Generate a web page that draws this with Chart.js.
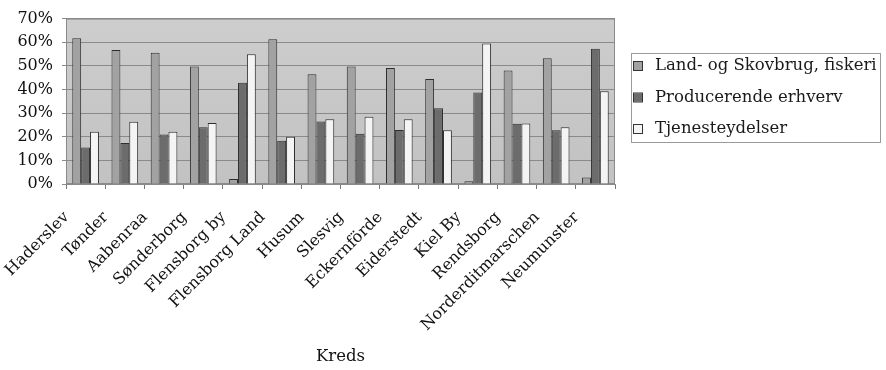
<!DOCTYPE html>
<html>
<head>
<meta charset="utf-8">
<script src="https://cdn.jsdelivr.net/npm/chart.js@4/dist/chart.umd.min.js"></script>
<style>
  html, body { margin: 0; padding: 0; background: #ffffff; }
  #wrap { width: 886px; height: 370px; }
</style>
</head>
<body>
<div id="wrap"><canvas id="c" width="886" height="370"></canvas></div>
<script>
// Erhvervsfordeling pr. kreds (andel af befolkningen, %)
const kredse = ['Haderslev', 'Tønder', 'Aabenraa', 'Sønderborg', 'Flensborg by', 'Flensborg Land',
  'Husum', 'Slesvig', 'Eckernförde', 'Eiderstedt', 'Kiel By', 'Rendsborg', 'Norderditmarschen', 'Neumunster'];
const landbrug     = [61.7, 56.7, 55.5, 49.7,  2.1, 61.3, 46.4, 49.7, 49.1, 44.4,  1.2, 48.0, 53.2,  2.8];
const producerende = [15.5, 17.3, 21.0, 24.0, 42.9, 18.3, 26.4, 21.3, 22.9, 32.1, 38.7, 25.5, 22.8, 57.2];
const tjeneste     = [22.1, 26.3, 22.1, 25.8, 54.9, 20.0, 27.4, 28.5, 27.4, 22.8, 59.5, 25.6, 24.0, 39.3];
const serieNavne = ['Land- og Skovbrug, fiskeri', 'Producerende erhverv', 'Tjenesteydelser'];
const yTickLabels = ['0%', '10%', '20%', '30%', '40%', '50%', '60%', '70%'];
const aksetitel = 'Kreds';

const SERIF = '"DejaVu Serif", "Liberation Serif", serif';
const fills = ['#a2a2a2', '#6c6c6c', '#f4f4f4'];
const edge = '#2e2e2e';

// Grey plot panel with a thin frame
const panel = {
  id: 'panel',
  beforeDraw(chart) {
    const { ctx, chartArea: a } = chart;
    ctx.save();
    const g = ctx.createLinearGradient(0, a.top, 0, a.bottom);
    g.addColorStop(0, '#cdcdcd');
    g.addColorStop(1, '#c2c2c2');
    ctx.fillStyle = g;
    ctx.fillRect(a.left, a.top, a.right - a.left, a.bottom - a.top);
    ctx.restore();
  },
  beforeDatasetsDraw(chart) {
    const { ctx, chartArea: a } = chart;
    ctx.save();
    ctx.strokeStyle = '#8a8a8a';
    ctx.lineWidth = 1;
    ctx.strokeRect(a.left + 0.5, a.top + 0.5, a.right - a.left - 1, a.bottom - a.top - 1);
    ctx.restore();
  }
};

// Framed legend to the right of the plot
const boxLegend = {
  id: 'boxLegend',
  afterDraw(chart) {
    const { ctx, chartArea: a } = chart;
    const x0 = a.right + 16, y0 = 53, w = 249, h = 89;
    ctx.save();
    ctx.fillStyle = '#ffffff';
    ctx.fillRect(x0, y0, w, h);
    ctx.strokeStyle = '#9a9a9a';
    ctx.lineWidth = 1;
    ctx.strokeRect(x0 + 0.5, y0 + 0.5, w, h);
    ctx.font = '16.5px ' + SERIF;
    ctx.textBaseline = 'middle';
    chart.data.datasets.forEach((ds, i) => {
      const cy = y0 + 13 + i * 31.5;
      ctx.fillStyle = ds.backgroundColor;
      ctx.fillRect(x0 + 3, cy - 4, 8, 8);
      ctx.strokeStyle = '#333333';
      ctx.strokeRect(x0 + 2.5, cy - 4.5, 9, 9);
      ctx.fillStyle = '#1a1a1a';
      ctx.fillText(ds.label, x0 + 24, cy);
    });
    ctx.restore();
  }
};

const series = [landbrug, producerende, tjeneste];

new Chart(document.getElementById('c'), {
  type: 'bar',
  data: {
    labels: kredse,
    datasets: series.map((vals, i) => ({
      label: serieNavne[i],
      data: vals,
      backgroundColor: fills[i],
      borderColor: edge,
      borderWidth: 1,
      barPercentage: 1.0,
      categoryPercentage: 0.68
    }))
  },
  options: {
    responsive: false,
    animation: false,
    devicePixelRatio: 1,
    layout: { padding: { top: 11, left: 0, right: 271, bottom: 0 } },
    plugins: {
      legend: { display: false },
      tooltip: { enabled: false }
    },
    scales: {
      x: {
        grid: { display: true, offset: true, drawOnChartArea: false, drawTicks: true, tickLength: 5, color: '#777777' },
        border: { display: true, color: '#8a8a8a' },
        ticks: {
          color: '#111111',
          font: { family: SERIF, size: 16 },
          minRotation: 45, maxRotation: 45,
          autoSkip: false,
          padding: 19,
          labelOffset: -19
        },
        title: {
          display: true,
          text: aksetitel,
          color: '#111111',
          font: { family: SERIF, size: 16.5 },
          padding: { top: 0, bottom: 3 }
        },
        afterFit(scale) { scale.height = 186; }
      },
      y: {
        min: 0, max: 70,
        grid: { color: '#8a8a8a', drawTicks: true, tickLength: 4 },
        border: { display: true, color: '#8a8a8a' },
        ticks: {
          stepSize: 10,
          padding: 9,
          color: '#111111',
          font: { family: SERIF, size: 16 },
          callback: (v) => yTickLabels[Math.round(v / 10)]
        },
        afterFit(scale) { scale.width = 66; }
      }
    }
  },
  plugins: [panel, boxLegend]
});
</script>
</body>
</html>
